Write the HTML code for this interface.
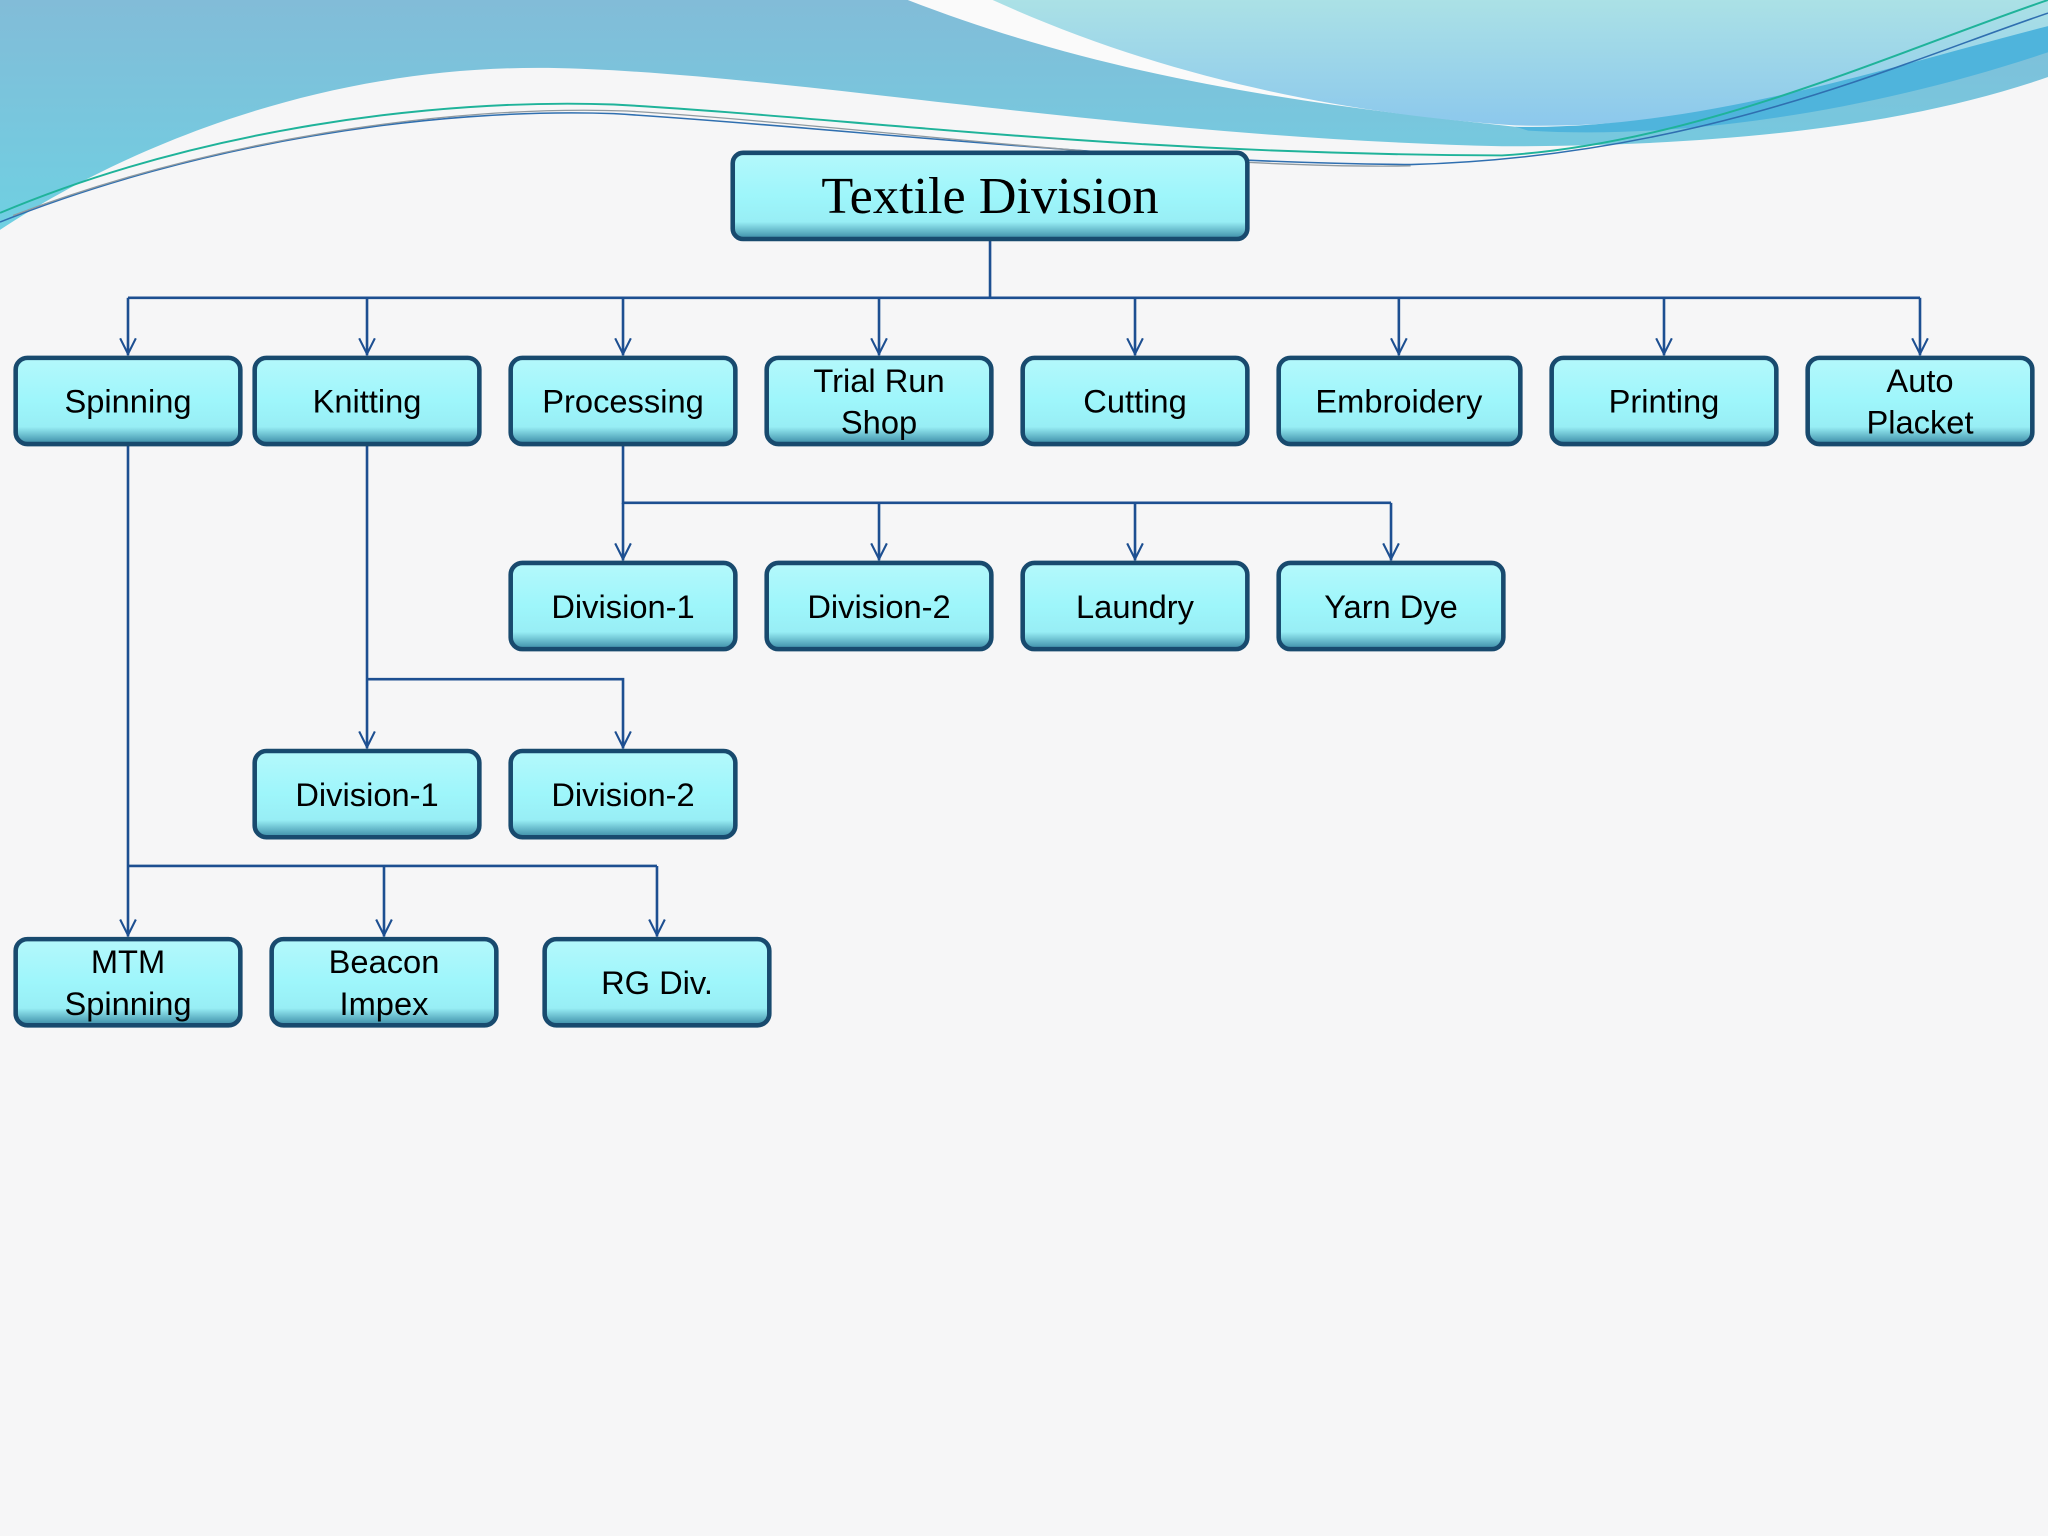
<!DOCTYPE html>
<html><head><meta charset="utf-8"><style>
html,body{margin:0;padding:0;background:#f6f6f7;}
svg{display:block;}
</style></head><body>
<svg width="2048" height="1536" viewBox="0 0 1568 1176" xmlns="http://www.w3.org/2000/svg">
<defs>
<linearGradient id="bl" x1="0" y1="0" x2="0" y2="1">
<stop offset="0" stop-color="#82bcd8"/><stop offset="1" stop-color="#6fd0e2"/></linearGradient>
<linearGradient id="lt" x1="0" y1="0" x2="0" y2="1">
<stop offset="0" stop-color="#abe1e6"/><stop offset="1" stop-color="#8cc8ec"/></linearGradient>
<linearGradient id="bx" x1="0" y1="0" x2="0" y2="1">
<stop offset="0" stop-color="#b4f8fb"/><stop offset="0.5" stop-color="#9ef6fb"/><stop offset="0.8" stop-color="#98eef5"/><stop offset="1" stop-color="#3a8aa5"/></linearGradient>
<marker id="ar" markerWidth="16" markerHeight="16" refX="14" refY="7" orient="auto" markerUnits="userSpaceOnUse">
<path d="M1,1 L13,7 L1,13" fill="none" stroke="#1d4f91" stroke-width="1.6"/></marker>
</defs>
<rect width="1568" height="1176" fill="#f6f6f7"/>
<!-- waves -->
<path d="M0,0 L1568,0 L1568,59 C1450,100 1300,112 1150,112 C850,105 600,55 420,52 C250,50 100,110 0,176 Z" fill="url(#bl)"/>
<path d="M695,0 L1568,0 L1568,20 C1450,60 1300,110 1160,97 C1000,80 850,60 695,0 Z" fill="#fafafa"/>
<path d="M760,0 L1568,0 L1568,20 C1450,60 1300,100 1160,96 C1000,85 870,50 760,0 Z" fill="url(#lt)"/>
<path d="M1160,97 C1300,100 1450,50 1568,20 L1568,40 C1450,80 1300,108 1170,100 Z" fill="#4fb4dc"/>
<path d="M0,163 C150,100 330,75 470,80 C650,90 850,118 1150,119 C1300,110 1450,40 1568,0" fill="none" stroke="#1fb39a" stroke-width="1.5"/>
<path d="M0,170 C150,110 330,82 470,87 C650,98 850,124 1080,126 C1300,120 1450,50 1568,10" fill="none" stroke="#2f6fb0" stroke-width="1.2"/>
<path d="M10,165 C160,108 340,80 480,85 C660,96 900,130 1080,127" fill="none" stroke="#909aa0" stroke-width="1"/>
<!-- connectors -->
<g stroke="#1d4f91" stroke-width="2" fill="none">
<path d="M758,184 V228"/>
<path d="M98,228 H1470"/>
<path d="M98,228 V272" marker-end="url(#ar)"/>
<path d="M281,228 V272" marker-end="url(#ar)"/>
<path d="M477,228 V272" marker-end="url(#ar)"/>
<path d="M673,228 V272" marker-end="url(#ar)"/>
<path d="M869,228 V272" marker-end="url(#ar)"/>
<path d="M1071,228 V272" marker-end="url(#ar)"/>
<path d="M1274,228 V272" marker-end="url(#ar)"/>
<path d="M1470,228 V272" marker-end="url(#ar)"/>
<path d="M477,341 V385 H1065"/>
<path d="M477,385 V429" marker-end="url(#ar)"/>
<path d="M673,385 V429" marker-end="url(#ar)"/>
<path d="M869,385 V429" marker-end="url(#ar)"/>
<path d="M1065,385 V429" marker-end="url(#ar)"/>
<path d="M281,341 V573" marker-end="url(#ar)"/>
<path d="M281,520 H477 V573" marker-end="url(#ar)"/>
<path d="M98,341 V717" marker-end="url(#ar)"/>
<path d="M98,663 H503"/>
<path d="M294,663 V717" marker-end="url(#ar)"/>
<path d="M503,663 V717" marker-end="url(#ar)"/>
</g>
<!-- boxes -->
<g stroke="#184a6e" stroke-width="3.5" fill="url(#bx)">
<rect x="561" y="117" width="394" height="66" rx="8"/>
<rect x="12" y="274" width="172" height="66" rx="9"/>
<rect x="195" y="274" width="172" height="66" rx="9"/>
<rect x="391" y="274" width="172" height="66" rx="9"/>
<rect x="587" y="274" width="172" height="66" rx="9"/>
<rect x="783" y="274" width="172" height="66" rx="9"/>
<rect x="979" y="274" width="185" height="66" rx="9"/>
<rect x="1188" y="274" width="172" height="66" rx="9"/>
<rect x="1384" y="274" width="172" height="66" rx="9"/>
<rect x="391" y="431" width="172" height="66" rx="9"/>
<rect x="587" y="431" width="172" height="66" rx="9"/>
<rect x="783" y="431" width="172" height="66" rx="9"/>
<rect x="979" y="431" width="172" height="66" rx="9"/>
<rect x="195" y="575" width="172" height="66" rx="9"/>
<rect x="391" y="575" width="172" height="66" rx="9"/>
<rect x="12" y="719" width="172" height="66" rx="9"/>
<rect x="208" y="719" width="172" height="66" rx="9"/>
<rect x="417" y="719" width="172" height="66" rx="9"/>
</g>
<text x="758" y="163" text-anchor="middle" font-family="Liberation Serif, serif" font-size="40" fill="#000">Textile Division</text>
<g font-family="Liberation Sans, sans-serif" font-size="25" fill="#000" text-anchor="middle">
<text x="98" y="316">Spinning</text>
<text x="281" y="316">Knitting</text>
<text x="477" y="316">Processing</text>
<text x="673" y="300">Trial Run</text><text x="673" y="332">Shop</text>
<text x="869" y="316">Cutting</text>
<text x="1071" y="316">Embroidery</text>
<text x="1274" y="316">Printing</text>
<text x="1470" y="300">Auto</text><text x="1470" y="332">Placket</text>
<text x="477" y="473">Division-1</text>
<text x="673" y="473">Division-2</text>
<text x="869" y="473">Laundry</text>
<text x="1065" y="473">Yarn Dye</text>
<text x="281" y="617">Division-1</text>
<text x="477" y="617">Division-2</text>
<text x="98" y="745">MTM</text><text x="98" y="777">Spinning</text>
<text x="294" y="745">Beacon</text><text x="294" y="777">Impex</text>
<text x="503" y="761">RG Div.</text>
</g>
</svg>
</body></html>
